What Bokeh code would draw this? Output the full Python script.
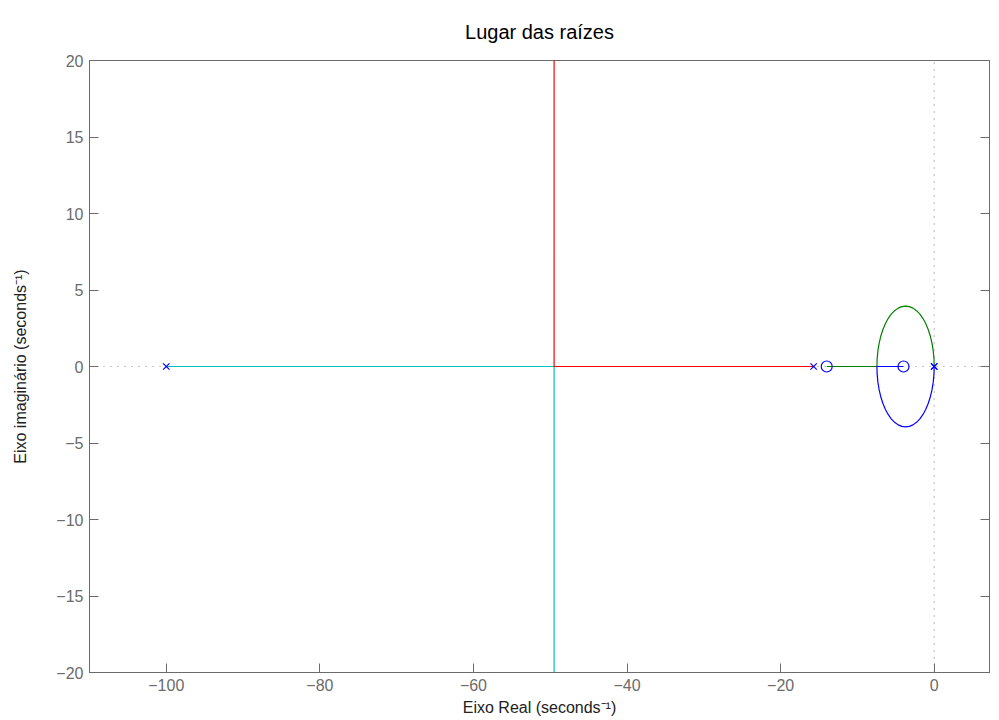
from bokeh.plotting import figure
from bokeh.models import LinearAxis, FixedTicker, Range1d
from bokeh.embed import file_html
from bokeh.resources import INLINE

# ---- data ----
x_ticks = [-100, -80, -60, -40, -20, 0]
y_ticks = [-20, -15, -10, -5, 0, 5, 10, 15, 20]

poles_re = [-100, -15.7, 0, 0]
poles_im = [0, 0, 0, 0]
zeros_re = [-14, -4]
zeros_im = [0, 0]

cyan_re = [-100, -49.5, -49.5]
cyan_im = [0, 0, -40]
red_re = [-15.7, -49.5, -49.5]
red_im = [0, 0, 40]

green_re = [-14, -7.46, -7.428, -7.333, -7.176, -6.960, -6.689, -6.367, -6.001, -5.595,
            -5.157, -4.695, -4.217, -3.73, -3.243, -2.765, -2.303, -1.865, -1.459,
            -1.093, -0.771, -0.500, -0.284, -0.127, -0.032, 0]
green_im = [0, 0, 0.516, 1.022, 1.512, 1.975, 2.405, 2.793, 3.134, 3.421,
            3.649, 3.815, 3.916, 3.95, 3.916, 3.815, 3.649, 3.421, 3.134,
            2.793, 2.405, 1.975, 1.512, 1.022, 0.516, 0]
blue_re = [0, -0.032, -0.127, -0.284, -0.500, -0.771, -1.093, -1.459, -1.865, -2.303,
           -2.765, -3.243, -3.73, -4.217, -4.695, -5.157, -5.595, -6.001, -6.367,
           -6.689, -6.960, -7.176, -7.333, -7.428, -7.46, -4]
blue_im = [0, -0.516, -1.022, -1.512, -1.975, -2.405, -2.793, -3.134, -3.421, -3.649,
           -3.815, -3.916, -3.95, -3.916, -3.815, -3.649, -3.421, -3.134, -2.793,
           -2.405, -1.975, -1.512, -1.022, -0.516, 0, 0]

x_min, x_max = -110, 7.2
y_min, y_max = -20, 20

FONT = "Liberation Sans"
GREY = "#6b6b6b"

def lab(v):
    return ("\u2212" + str(abs(v))) if v < 0 else str(v)

p = figure(frame_width=900, frame_height=612, output_backend="svg", toolbar_location=None,
           x_range=Range1d(x_min, x_max), y_range=Range1d(y_min, y_max),
           min_border_left=89, min_border_right=8, min_border_top=60, min_border_bottom=46,
           title="Lugar das raízes")
p.title.align = "center"
p.title.vertical_align = "top"
p.title.text_font = FONT
p.title.text_font_size = "20px"
p.title.text_font_style = "normal"
p.title.text_color = "black"
p.title.standoff = 31
p.grid.visible = False
p.outline_line_color = GREY
p.outline_line_width = 1

# axes
for ax, ticks in ((p.xaxis[0], x_ticks), (p.yaxis[0], y_ticks)):
    ax.ticker = FixedTicker(ticks=ticks)
    ax.major_label_overrides = {v: lab(v) for v in ticks}
    ax.major_tick_in = 9
    ax.major_tick_out = 0
    ax.minor_tick_in = 0
    ax.minor_tick_out = 0
    ax.axis_line_color = GREY
    ax.major_tick_line_color = GREY
    ax.major_label_text_color = GREY
    ax.major_label_text_font = FONT
    ax.major_label_text_font_size = "16px"
    ax.axis_label_text_font = FONT
    ax.axis_label_text_font_size = "16px"
    ax.axis_label_text_font_style = "normal"
    ax.axis_label_text_color = "#222222"
    ax.major_label_standoff = 6

p.xaxis[0].axis_label = "Eixo Real (seconds\u207b\u00b9)"
p.xaxis[0].axis_label_standoff = 5
p.yaxis[0].axis_label = "Eixo imaginário (seconds\u207b\u00b9)"
p.yaxis[0].axis_label_standoff = 24

# mirrored ticks on the right (no labels)
ra = LinearAxis(ticker=FixedTicker(ticks=y_ticks))
ra.major_label_overrides = {v: "" for v in y_ticks}
ra.major_tick_in = 9
ra.major_tick_out = 0
ra.minor_tick_in = 0
ra.minor_tick_out = 0
ra.axis_line_color = GREY
ra.major_tick_line_color = GREY
ra.major_label_standoff = 0
p.add_layout(ra, "right")

# dotted reference lines through the origin
p.line([x_min, x_max], [0, 0], line_color="#8c8c8c", line_dash="1 6", line_width=1.2)
p.line([0, 0], [y_min, y_max], line_color="#8c8c8c", line_dash="1 6", line_width=1.2)

# locus branches
p.line(cyan_re, cyan_im, line_color="#00bfbf", line_width=1.2)
p.line(red_re, red_im, line_color="#ff0000", line_width=1.2)
p.line(green_re, green_im, line_color="#008000", line_width=1.2)
p.line(blue_re, blue_im, line_color="#0000ff", line_width=1.2)

# poles and zeros
p.scatter(poles_re, poles_im, marker="x", size=9, line_color="#0000ff", line_width=1.2)
p.scatter(zeros_re, zeros_im, marker="circle", size=11, fill_color=None,
          line_color="#0000ff", line_width=1.2)

open("out.html", "w").write(file_html(p, INLINE))
